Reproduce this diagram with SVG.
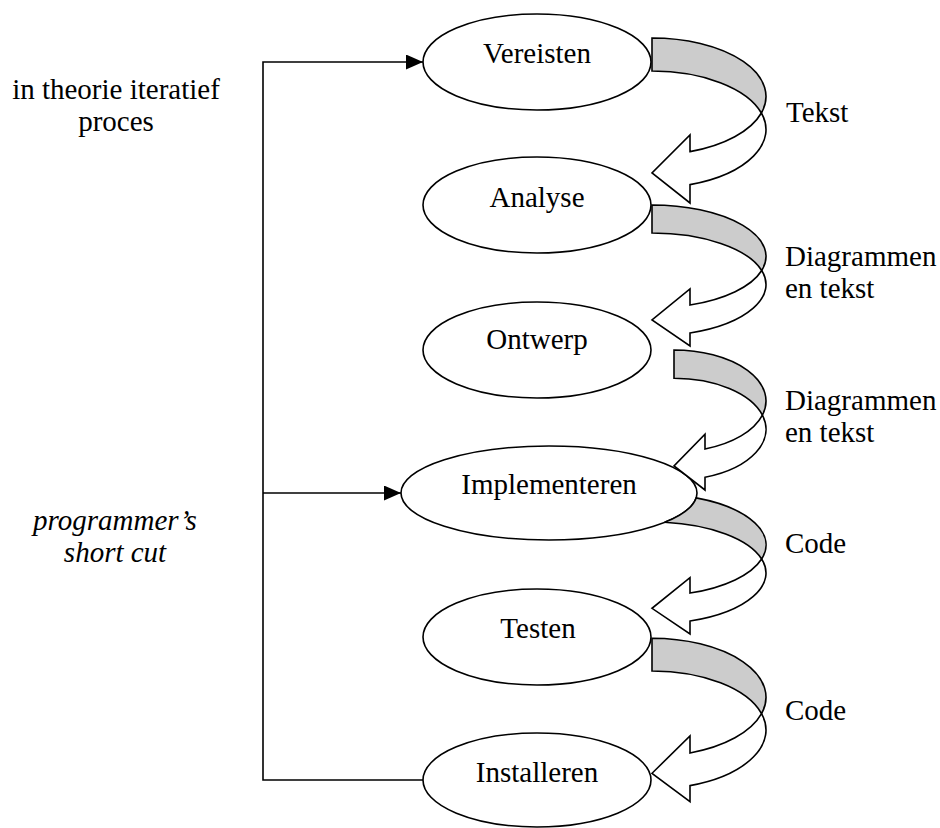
<svg xmlns="http://www.w3.org/2000/svg" width="940" height="828" viewBox="0 0 940 828">
<style>
.node ellipse{fill:#fff;stroke:#000;stroke-width:1.6}
text{font-family:"Liberation Serif","Times New Roman",serif;font-size:29px;fill:#000}
.nt{text-anchor:middle}
.it{font-style:italic;text-anchor:middle}
.line{fill:none;stroke:#000;stroke-width:1.6}
.back{fill:#cccccc;stroke:#000;stroke-width:1.6;stroke-linejoin:miter}
.front{fill:#fff;stroke:#000;stroke-width:1.6;stroke-linejoin:miter}
</style>
<defs>
<marker id="ah" markerUnits="userSpaceOnUse" markerWidth="17" markerHeight="15" refX="17" refY="7.5" orient="auto">
<path d="M0,0 L17,7.5 L0,15 Z" fill="#000"/>
</marker>
</defs>
<rect width="940" height="828" fill="#fff"/>
<g id="labels">
<text class="nt" x="116" y="99">in theorie iteratief</text>
<text class="nt" x="116" y="131">proces</text>
<text class="it" x="115" y="530">programmer’s</text>
<text class="it" x="115" y="562">short cut</text>
<text x="786" y="122">Tekst</text>
<text x="785" y="266">Diagrammen</text>
<text x="785" y="298">en tekst</text>
<text x="785" y="410">Diagrammen</text>
<text x="785" y="442">en tekst</text>
<text x="785" y="553">Code</text>
<text x="785" y="720">Code</text>
</g>
<g id="vereisten" class="node"><ellipse cx="537" cy="62" rx="114" ry="48"/><text class="nt" x="537" y="63">Vereisten</text></g>
<g id="analyse" class="node"><ellipse cx="537" cy="205" rx="114" ry="48"/><text class="nt" x="537" y="207">Analyse</text></g>
<g id="ontwerp" class="node"><ellipse cx="537" cy="350" rx="114" ry="48"/><text class="nt" x="537" y="349">Ontwerp</text></g>
<g id="implementeren" class="node"><ellipse cx="549" cy="493" rx="148" ry="47"/><text class="nt" x="549" y="494">Implementeren</text></g>
<g id="testen" class="node"><ellipse cx="537" cy="637" rx="114" ry="48"/><text class="nt" x="538" y="638">Testen</text></g>
<g id="installeren" class="node"><ellipse cx="537" cy="780" rx="114" ry="47"/><text class="nt" x="537" y="782">Installeren</text></g>
<g id="connectors">
<path class="line" d="M423,780 H263 V62 H423" marker-end="url(#ah)"/>
<path class="line" d="M263,493 H401" marker-end="url(#ah)"/>
<path class="back" d="M652,38 A114,58.5 0 0 1 761.37,113 A114,58.5 0 0 0 652,71 Z"/>
<path class="front" d="M761.37,113 A114,58.5 0 0 1 690,151.65 L690,135 L652,173 L690,203 L690,184.65 A114,58.5 0 0 0 761.37,113 Z"/>
<path class="back" d="M652,205 A114,51.5 0 0 1 761.71,270.5 A114,51.5 0 0 0 652,233 Z"/>
<path class="front" d="M761.71,270.5 A114,51.5 0 0 1 690,305.05 L690,289 L652,320 L690,346 L690,333.05 A114,51.5 0 0 0 761.71,270.5 Z"/>
<path class="back" d="M674,350 A92,51 0 0 1 762.39,415.15 A92,51 0 0 0 674,378.3 Z"/>
<path class="front" d="M762.39,415.15 A92,51 0 0 1 705,449.02 L705,434.3 L674,466 L705,490 L705,477.32 A92,51 0 0 0 762.39,415.15 Z"/>
<path class="back" d="M696.15,497.9 A114,51 0 0 1 761.62,559 A114,51 0 0 0 664.67,522.3 A148,47 0 0 0 696.15,497.9 Z"/>
<path class="front" d="M761.62,559 A114,51 0 0 1 690,593.08 L690,577.7 L652,608.3 L690,634 L690,621.08 A114,51 0 0 0 761.62,559 Z"/>
<path class="back" d="M652,638.3 A114,59 0 0 1 761.53,713.65 A114,59 0 0 0 652,671 Z"/>
<path class="front" d="M761.53,713.65 A114,59 0 0 1 690,752.93 L690,736 L652,773.3 L690,801.7 L690,785.63 A114,59 0 0 0 761.53,713.65 Z"/>
</g>
</svg>
